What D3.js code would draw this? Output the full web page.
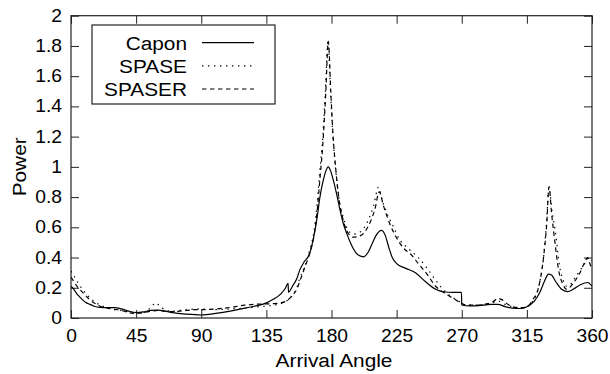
<!DOCTYPE html>
<html><head><meta charset="utf-8">
<script src="https://cdn.jsdelivr.net/npm/d3@7"></script>
<style>
html,body{margin:0;padding:0;background:#fff;}
text{font-family:"Liberation Sans",Arial,Helvetica,sans-serif;}
</style></head>
<body><svg id="chart" width="610" height="374"></svg>
<script>
// ---------- data ----------
const seriesNames = ["Capon", "SPASE", "SPASER"];
const xTickValues = [0,45,90,135,180,225,270,315,360];
const xTickLabels = ["0","45","90","135","180","225","270","315","360"];
const yTickValues = [0,0.2,0.4,0.6,0.8,1,1.2,1.4,1.6,1.8,2];
const yTickLabels = ["0","0.2","0.4","0.6","0.8","1","1.2","1.4","1.6","1.8","2"];

const caponAngle = [0,2,4,6,8,10,13,16,20,25,30,35,40,45,50,55,60,65,70,80,90,100,110,120,130,135,140,145,148,150,150.3,153,156,158.2,161,165,168,170,172,174.3,176,177.8,179.5,181.3,184,186,188,190.5,193,195,198,202,205,208,211,214.5,217,219.5,222,225,231,238,245,252,258,264,269.8,270,275,280,285,290,295,300,305,310,315,320,324,327,330,332,335,339,343,347,352,357,360];
const caponPower = [0.21,0.19,0.16,0.14,0.12,0.105,0.09,0.078,0.07,0.068,0.068,0.06,0.045,0.036,0.04,0.05,0.052,0.045,0.035,0.025,0.02,0.03,0.045,0.065,0.085,0.1,0.125,0.16,0.195,0.23,0.17,0.21,0.26,0.32,0.37,0.43,0.55,0.66,0.8,0.91,0.97,1.0,0.97,0.91,0.8,0.71,0.63,0.56,0.5,0.46,0.42,0.405,0.43,0.49,0.55,0.58,0.55,0.47,0.4,0.36,0.33,0.3,0.24,0.19,0.172,0.17,0.17,0.086,0.08,0.08,0.085,0.09,0.09,0.075,0.065,0.063,0.075,0.11,0.17,0.24,0.29,0.285,0.24,0.19,0.175,0.19,0.22,0.235,0.21];

const spaseAngle = [0,2,5,8,10,13,16,20,25,30,35,40,45,50,54,57,59,61,65,70,75,80,90,100,110,120,130,140,145,150,153,156,158,161,165,168,170,172,174,176,177.6,179.3,181,183,185,188,191,195,200,205,209,212.5,215,218,222,227,233,240,246,252,258,263,268,272,280,288,293,296,300,305,310,315,319,323,326.5,328.5,330.3,332.5,335,337,340,342.5,345,348,352,355,358,360];
const spasePower = [0.31,0.28,0.23,0.19,0.165,0.135,0.11,0.085,0.07,0.055,0.05,0.04,0.033,0.035,0.06,0.09,0.1,0.08,0.055,0.045,0.05,0.055,0.06,0.055,0.06,0.065,0.075,0.085,0.095,0.12,0.15,0.2,0.26,0.33,0.45,0.58,0.75,0.98,1.2,1.55,1.84,1.5,1.2,0.97,0.8,0.67,0.59,0.555,0.57,0.64,0.74,0.865,0.78,0.7,0.62,0.52,0.46,0.4,0.33,0.25,0.18,0.14,0.11,0.085,0.085,0.09,0.105,0.11,0.09,0.075,0.068,0.075,0.11,0.2,0.4,0.62,0.86,0.7,0.55,0.38,0.25,0.21,0.22,0.26,0.32,0.36,0.4,0.38];

const spaserAngle = [0,2,5,8,10,13,16,20,25,30,35,40,45,50,55,60,65,70,75,80,85,90,100,110,120,130,140,145,150,153,156,158,161,165,168,170,172,174,176,177.8,179.5,181,183,185,188,191,195,200,205,210,213,216,220,225,230,235,240,246,252,258,265,270,274,280,288,292,295,298,302,307,312,316,319,323,326.5,328.7,330.3,332,334.4,336.7,340,342.5,347,351.7,355,357,358.5,360];
const spaserPower = [0.27,0.24,0.2,0.17,0.15,0.12,0.1,0.078,0.065,0.058,0.05,0.035,0.03,0.035,0.045,0.05,0.045,0.042,0.045,0.05,0.055,0.055,0.06,0.07,0.085,0.092,0.095,0.1,0.12,0.15,0.19,0.24,0.32,0.43,0.55,0.7,0.92,1.15,1.48,1.83,1.5,1.22,0.98,0.8,0.65,0.57,0.535,0.545,0.6,0.72,0.835,0.74,0.63,0.53,0.46,0.42,0.36,0.29,0.21,0.165,0.125,0.095,0.085,0.085,0.095,0.11,0.13,0.12,0.09,0.07,0.068,0.08,0.12,0.2,0.4,0.62,0.87,0.7,0.5,0.33,0.22,0.19,0.23,0.3,0.37,0.4,0.36,0.32];

// ---------- layout ----------
const svg = d3.select("#chart");
const L = 71, R = 592, T = 15.7, B = 318;
const x = d3.scaleLinear().domain([0,360]).range([L,R]);
const y = d3.scaleLinear().domain([0,2]).range([B,T]);
const FS = 17.5, SX = 1.1;
const frameColor = "#222";

function styleAxis(g){
  g.select(".domain").remove();
  g.selectAll(".tick line").attr("stroke", frameColor).attr("stroke-width",1);
  g.selectAll(".tick text").attr("fill","#000").style("font-size",FS+"px")
    .style("font-family",'"Liberation Sans",Arial,sans-serif');
}

svg.append("g").attr("transform",`translate(0,${B})`)
  .call(d3.axisBottom(x).tickValues(xTickValues).tickFormat((d,i)=>xTickLabels[i]).tickSizeInner(-8).tickSizeOuter(0).tickPadding(12))
  .call(styleAxis)
  .call(g=>g.selectAll(".tick text").attr("transform",`scale(${SX},1)`));
svg.append("g").attr("transform",`translate(0,${T})`)
  .call(d3.axisTop(x).tickValues(xTickValues).tickFormat("").tickSizeInner(-8).tickSizeOuter(0))
  .call(styleAxis);
svg.append("g").attr("transform",`translate(${L},0)`)
  .call(d3.axisLeft(y).tickValues(yTickValues).tickFormat((d,i)=>yTickLabels[i]).tickSizeInner(-8).tickSizeOuter(0).tickPadding(8.2))
  .call(styleAxis)
  .call(g=>g.selectAll(".tick text").attr("transform",`scale(${SX},1)`));
svg.append("g").attr("transform",`translate(${R},0)`)
  .call(d3.axisRight(y).tickValues(yTickValues).tickFormat("").tickSizeInner(-8).tickSizeOuter(0))
  .call(styleAxis);

// frame
svg.append("rect").attr("x",L).attr("y",T).attr("width",R-L).attr("height",B-T)
  .attr("fill","none").attr("stroke",frameColor).attr("stroke-width",1.2);

// series
const dashes = ["none","1.4,4.6","4.5,3.5"];
const seriesData = [
  caponAngle.map((a,i)=>[a,caponPower[i]]),
  spaseAngle.map((a,i)=>[a,spasePower[i]]),
  spaserAngle.map((a,i)=>[a,spaserPower[i]])
];
const line = d3.line().x(d=>x(d[0])).y(d=>y(d[1])).curve(d3.curveMonotoneX);
svg.append("clipPath").attr("id","pc").append("rect")
  .attr("x",L).attr("y",T).attr("width",R-L).attr("height",B-T);
seriesData.forEach((d,i)=>{
  svg.append("path").datum(d).attr("d",line).attr("fill","none")
    .attr("stroke","#000").attr("stroke-width",1.2)
    .attr("stroke-dasharray",dashes[i]).attr("clip-path","url(#pc)");
});

// axis titles
const TS = 18.6, TSX = 1.12;
svg.append("text").attr("transform",`translate(${334},367) scale(${TSX},1)`).attr("text-anchor","middle")
  .style("font-size",TS+"px").text("Arrival Angle");
svg.append("text").attr("transform",`translate(26,${(T+B)/2}) rotate(-90) scale(${TSX},1)`)
  .attr("text-anchor","middle").style("font-size",TS+"px").text("Power");

// legend
const lg = svg.append("g");
lg.append("rect").attr("x",92).attr("y",25).attr("width",183).attr("height",79)
  .attr("fill","#fff").attr("stroke",frameColor).attr("stroke-width",1.2);
const rowY = [42.7,65.8,89];
seriesNames.forEach((n,i)=>{
  lg.append("text").attr("transform",`translate(187,${rowY[i]+6.8}) scale(${TSX},1)`).attr("text-anchor","end")
    .style("font-size",TS+"px").text(n);
  lg.append("line").attr("x1",202).attr("x2",254).attr("y1",rowY[i]).attr("y2",rowY[i])
    .attr("stroke","#000").attr("stroke-width",1.2).attr("stroke-dasharray",dashes[i]);
});
</script></body></html>
